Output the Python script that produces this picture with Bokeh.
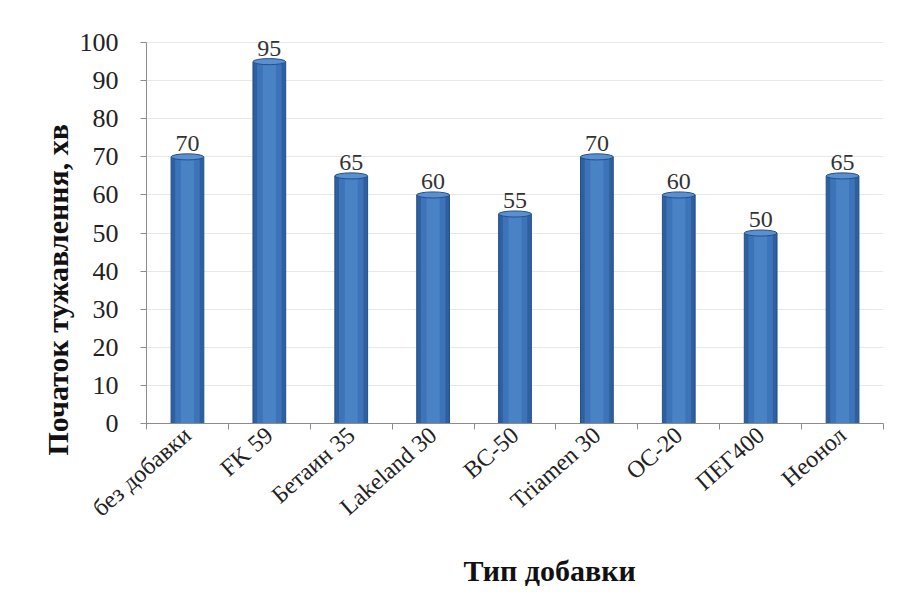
import math
from bokeh.plotting import figure
from bokeh.models import ColumnDataSource, FixedTicker, Range1d, LabelSet, Title
from bokeh.embed import file_html
from bokeh.resources import INLINE

categories = ["без добавки", "FK 59", "Бетаин 35", "Lakeland 30", "BC-50",
              "Triamen 30", "OC-20", "ПЕГ400", "Неонол"]
values = [70, 95, 65, 60, 55, 70, 60, 50, 65]
y_ticks = [0, 10, 20, 30, 40, 50, 60, 70, 80, 90, 100]
y_title = "Початок тужавлення, хв"
x_title = "Тип добавки"

xs = [i + 0.5 for i in range(len(categories))]
src = ColumnDataSource(dict(x=xs, v=values, lab=[str(v) for v in values]))

p = figure(width=899, height=604, output_backend="svg", toolbar_location=None,
           x_range=Range1d(0, len(categories)), y_range=Range1d(0, 110),
           min_border_left=146, min_border_right=16, min_border_top=4,
           min_border_bottom=181)
p.outline_line_color = None
p.background_fill_color = "white"

# cylinder-like bars: dark body, lighter centre, highlight strip
p.vbar(x="x", top="v", width=0.40, bottom=0, source=src,
       fill_color="#2E5F9E", line_color="#24508A", line_width=1)
p.vbar(x="x", top="v", width=0.30, bottom=0, source=src,
       fill_color="#3D73B8", line_color=None)
p.vbar(x="x", top="v", width=0.16, bottom=0, source=src,
       fill_color="#4A82C6", line_color=None)
p.ellipse(x="x", y="v", width=0.40, height=1.6, source=src,
          fill_color="#5A90D0", line_color="#24508A", line_width=1)

labels = LabelSet(x="x", y="v", text="lab", source=src, text_align="center",
                  text_baseline="bottom", y_offset=6,
                  text_font="Liberation Serif", text_font_size="24px",
                  text_color="#333333")
p.add_layout(labels)

# y axis
p.yaxis.ticker = FixedTicker(ticks=y_ticks)
p.yaxis.bounds = (0, 100)
p.yaxis.major_label_text_font = "Liberation Serif"
p.yaxis.major_label_text_font_size = "26px"
p.yaxis.major_label_text_color = "#222222"
p.yaxis.major_label_standoff = 22
p.yaxis.axis_line_color = "#8C8C8C"
p.yaxis.major_tick_line_color = "#8C8C8C"
p.yaxis.major_tick_out = 6
p.yaxis.major_tick_in = 0
p.yaxis.minor_tick_line_color = None

# x axis: labels at centres, ticks at boundaries
p.xaxis.ticker = FixedTicker(ticks=xs, minor_ticks=list(range(len(categories) + 1)))
p.xaxis.major_label_overrides = {x: c for x, c in zip(xs, categories)}
p.xaxis.major_label_orientation = 0.72
p.xaxis.major_tick_line_color = None
p.xaxis.minor_tick_line_color = "#8C8C8C"
p.xaxis.minor_tick_out = 6
p.xaxis.minor_tick_in = 0
p.xaxis.axis_line_color = "#8C8C8C"
p.xaxis.major_label_text_font = "Liberation Serif"
p.xaxis.major_label_text_font_size = "24px"
p.xaxis.major_label_text_color = "#222222"
p.xaxis.major_label_standoff = 2

# axis titles
p.add_layout(Title(text=y_title, align="left", offset=-32, standoff=6,
                   text_font="Liberation Serif", text_font_style="bold",
                   text_font_size="30px", text_color="#111111"), "left")
p.add_layout(Title(text=x_title, align="left", offset=317, standoff=36,
                   text_font="Liberation Serif", text_font_style="bold",
                   text_font_size="30px", text_color="#111111"), "below")

p.xgrid.grid_line_color = None
p.ygrid.grid_line_color = "#E8E8E8"

open("out.html", "w").write(file_html(p, INLINE))
